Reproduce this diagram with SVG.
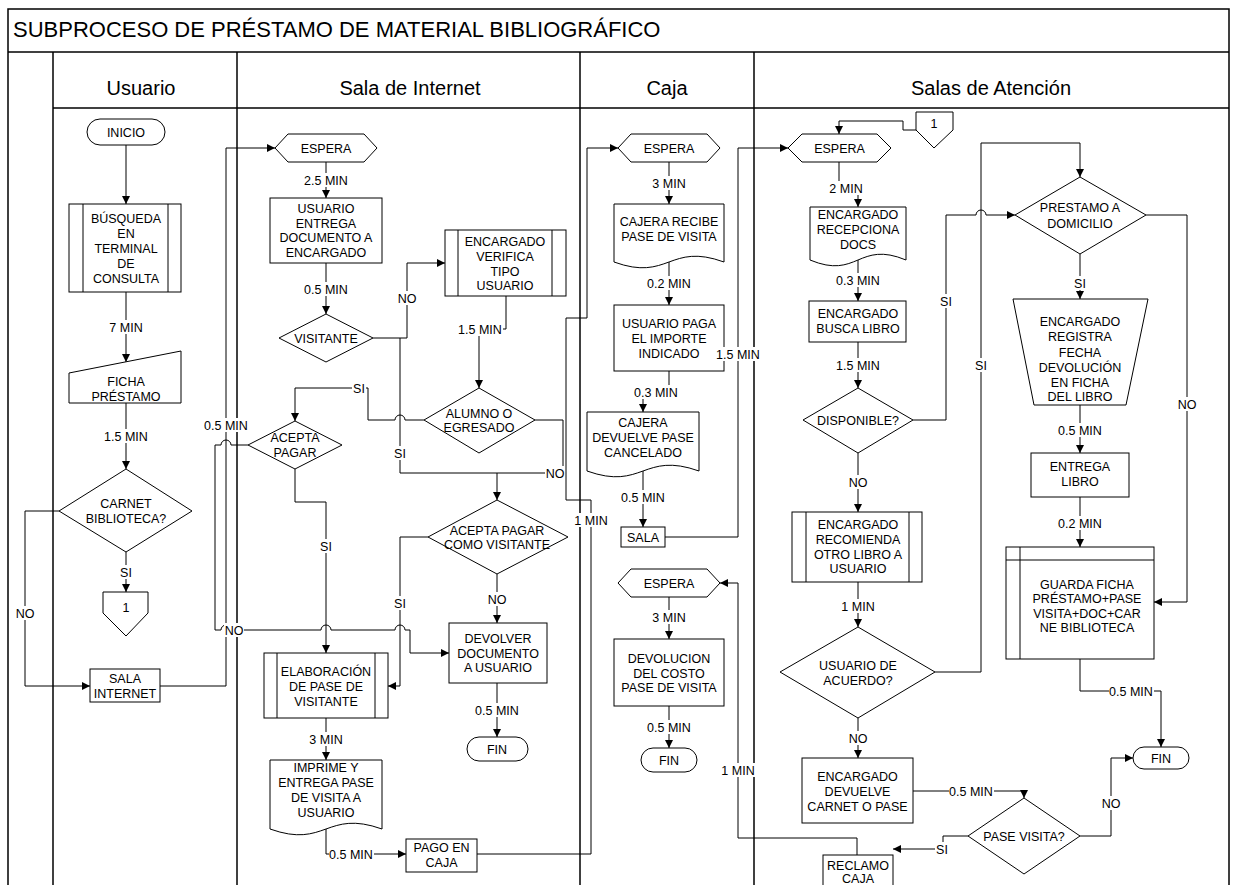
<svg xmlns="http://www.w3.org/2000/svg" width="1233" height="885" viewBox="0 0 1233 885">
<style>
.f{fill:none;stroke:#000;stroke-width:1.5}
.n{fill:#fff;stroke:#000;stroke-width:1}
.il{fill:none;stroke:#000;stroke-width:1}
.c{fill:none;stroke:#000;stroke-width:1}
.a{marker-end:url(#ar)}
.t{font-family:"Liberation Sans",Arial,sans-serif;font-size:12.5px;text-anchor:middle;fill:#000}
.h{font-family:"Liberation Sans",Arial,sans-serif;font-size:20px;text-anchor:middle;fill:#000}
.ttl{font-family:"Liberation Sans",Arial,sans-serif;font-size:22px;fill:#000}
.bg{fill:#fff}
</style>
<defs>
<marker id="ar" markerWidth="8" markerHeight="8" refX="8" refY="4" orient="auto" markerUnits="userSpaceOnUse"><path d="M0,0L8,4L0,8z" fill="#000"/></marker>
</defs>
<rect width="1233" height="885" fill="#fff"/>
<g id="frame">
<rect class="f" x="8" y="9" width="1221" height="890"/>
<line class="f" x1="8" y1="52" x2="1229" y2="52"/>
<line class="f" x1="53" y1="108" x2="1229" y2="108"/>
<line class="f" x1="53" y1="52" x2="53" y2="890"/>
<line class="f" x1="237" y1="52" x2="237" y2="890"/>
<line class="f" x1="580" y1="52" x2="580" y2="890"/>
<line class="f" x1="754" y1="52" x2="754" y2="890"/>
<text class="ttl" x="13" y="37">SUBPROCESO DE PRÉSTAMO DE MATERIAL BIBLIOGRÁFICO</text>
<text class="h" x="141" y="95">Usuario</text>
<text class="h" x="410" y="95">Sala de Internet</text>
<text class="h" x="667" y="95">Caja</text>
<text class="h" x="991" y="95">Salas de Atención</text>
</g>
<g id="connectors">
<path class="c a" d="M126,145V204"/>
<path class="c a" d="M126,292V362"/>
<path class="c a" d="M126,403V469"/>
<path class="c a" d="M126,552V592"/>
<path class="c a" d="M59,511H25V686H90"/>
<path class="c a" d="M160,686H226V148H275"/>
<path class="c a" d="M326,162V198"/>
<path class="c a" d="M326,263V314"/>
<path class="c a" d="M373,338H407V263H445"/>
<path class="c" d="M400,338V473H497"/>
<path class="c" d="M535,420H563V473H497"/>
<path class="c a" d="M497,473V500"/>
<path class="c a" d="M506,296V329H479V388"/>
<path class="c a" d="M424,420H405A5,5 0 0 0 395,420H368V388H295V421"/>
<path class="c a" d="M295,469V502H326V653"/>
<path class="c a" d="M248,445H231A5,5 0 0 0 221,445H215V630H221A5,5 0 0 1 231,630H321A5,5 0 0 1 331,630H395A5,5 0 0 1 405,630H410V653H449"/>
<path class="c a" d="M428,537H400V686H388"/>
<path class="c a" d="M497,574V623"/>
<path class="c a" d="M497,683V737"/>
<path class="c a" d="M326,718V760"/>
<path class="c a" d="M326,829V854H406"/>
<path class="c a" d="M477,854H591V500H566V318H587V148H618"/>
<path class="c a" d="M669,162V204"/>
<path class="c a" d="M669,262V305"/>
<path class="c a" d="M669,371V392H643V412"/>
<path class="c a" d="M643,471V527"/>
<path class="c a" d="M665,537H738V148H788"/>
<path class="c a" d="M857,855V838H738V583H720"/>
<path class="c a" d="M669,597V639"/>
<path class="c a" d="M669,706V748"/>
<path class="c a" d="M916,130H903V121H839V134"/>
<path class="c a" d="M839,162V188H858V207"/>
<path class="c a" d="M858,260V301"/>
<path class="c a" d="M858,342V388"/>
<path class="c a" d="M913,420H946V215H976A5,5 0 0 1 986,215H1015"/>
<path class="c a" d="M858,453V512"/>
<path class="c a" d="M858,582V627"/>
<path class="c a" d="M935,672H981V143H1080V177"/>
<path class="c a" d="M858,718V758"/>
<path class="c a" d="M913,791H1024V798"/>
<path class="c a" d="M968,836H943V849H893"/>
<path class="c a" d="M1080,836H1111V758H1133"/>
<path class="c a" d="M1146,215H1187V602H1154"/>
<path class="c a" d="M1080,254V299"/>
<path class="c a" d="M1080,405V453"/>
<path class="c a" d="M1080,497V547"/>
<path class="c a" d="M1080,659V691H1161V747"/>
</g>
<g id="n-inicio"><rect class="n" x="87" y="119" width="78" height="26" rx="13"/><text class="t" x="126" y="136.5">INICIO</text></g>
<g id="n-busqueda"><rect class="n" x="69" y="204" width="112" height="88"/><line class="il" x1="83" y1="204" x2="83" y2="292"/><line class="il" x1="168" y1="204" x2="168" y2="292"/>
<text class="t" x="126" y="222.5">BÚSQUEDA</text><text class="t" x="126" y="237.5">EN</text><text class="t" x="126" y="252.5">TERMINAL</text><text class="t" x="126" y="267.5">DE</text><text class="t" x="126" y="282.5">CONSULTA</text></g>
<g id="n-ficha"><polygon class="n" points="69,373 181,351 181,403 69,403"/><text class="t" x="126" y="385.5">FICHA</text><text class="t" x="126" y="400.5">PRÉSTAMO</text></g>
<g id="n-carnet"><polygon class="n" points="126,469 192,511 126,552 59,511"/><text class="t" x="126" y="507.5">CARNET</text><text class="t" x="126" y="522.5">BIBLIOTECA?</text></g>
<g id="n-off1"><polygon class="n" points="103,592 148,592 148,613 126,636 103,613"/><text class="t" x="126" y="612">1</text></g>
<g id="n-salainternet"><rect class="n" x="90" y="669" width="70" height="33"/><text class="t" x="125" y="682.5">SALA</text><text class="t" x="125" y="697.5">INTERNET</text></g>
<g id="n-espera1"><polygon class="n" points="275,148 288,134 364,134 377,148 364,162 288,162"/><text class="t" x="326" y="152.5">ESPERA</text></g>
<g id="n-entrega"><rect class="n" x="270" y="198" width="112" height="65"/><text class="t" x="326" y="212.5">USUARIO</text><text class="t" x="326" y="227.5">ENTREGA</text><text class="t" x="326" y="241.5">DOCUMENTO A</text><text class="t" x="326" y="256.5">ENCARGADO</text></g>
<g id="n-visitante"><polygon class="n" points="326,314 373,338 326,362 279,338"/><text class="t" x="326" y="342.5">VISITANTE</text></g>
<g id="n-verifica"><rect class="n" x="445" y="230" width="121" height="66"/><line class="il" x1="458" y1="230" x2="458" y2="296"/><line class="il" x1="552" y1="230" x2="552" y2="296"/>
<text class="t" x="505" y="245.5">ENCARGADO</text><text class="t" x="505" y="260.5">VERIFICA</text><text class="t" x="505" y="275.5">TIPO</text><text class="t" x="505" y="289.5">USUARIO</text></g>
<g id="n-alumno"><polygon class="n" points="479,388 535,420 479,453 424,420"/><text class="t" x="479" y="417.5">ALUMNO O</text><text class="t" x="479" y="431.5">EGRESADO</text></g>
<g id="n-aceptapagar"><polygon class="n" points="295,421 342,445 295,469 248,445"/><text class="t" x="295" y="441.5">ACEPTA</text><text class="t" x="295" y="456.5">PAGAR</text></g>
<g id="n-aceptavisitante"><polygon class="n" points="497,500 568,537 497,574 428,537"/><text class="t" x="497" y="534.5">ACEPTA PAGAR</text><text class="t" x="497" y="548.5">COMO VISITANTE</text></g>
<g id="n-devolver"><rect class="n" x="449" y="623" width="98" height="60"/><text class="t" x="498" y="642.5">DEVOLVER</text><text class="t" x="498" y="657.5">DOCUMENTO</text><text class="t" x="498" y="671.5">A USUARIO</text></g>
<g id="n-fin1"><rect class="n" x="467" y="737" width="61" height="24" rx="12"/><text class="t" x="497" y="753.5">FIN</text></g>
<g id="n-elaboracion"><rect class="n" x="264" y="653" width="124" height="65"/><line class="il" x1="277" y1="653" x2="277" y2="718"/><line class="il" x1="375" y1="653" x2="375" y2="718"/>
<text class="t" x="326" y="675.5">ELABORACIÓN</text><text class="t" x="326" y="690.5">DE PASE DE</text><text class="t" x="326" y="705.5">VISITANTE</text></g>
<g id="n-imprime"><path class="n" d="M270,760H382V829C326,809 326,849 270,829Z"/><text class="t" x="326" y="771.5">IMPRIME Y</text><text class="t" x="326" y="786.5">ENTREGA PASE</text><text class="t" x="326" y="801.5">DE VISITA A</text><text class="t" x="326" y="816.5">USUARIO</text></g>
<g id="n-pagocaja"><rect class="n" x="406" y="839" width="71" height="33"/><text class="t" x="441.5" y="851.5">PAGO EN</text><text class="t" x="441.5" y="866.5">CAJA</text></g>
<g id="n-espera2"><polygon class="n" points="618,148 631,134 707,134 720,148 707,162 631,162"/><text class="t" x="669" y="152.5">ESPERA</text></g>
<g id="n-cajerarecibe"><path class="n" d="M614,204H724V262C669,242 669,282 614,262Z"/><text class="t" x="669" y="225.5">CAJERA RECIBE</text><text class="t" x="669" y="240.5">PASE DE VISITA</text></g>
<g id="n-usuariopaga"><rect class="n" x="614" y="305" width="110" height="66"/><text class="t" x="669" y="327.5">USUARIO PAGA</text><text class="t" x="669" y="342.5">EL IMPORTE</text><text class="t" x="669" y="357.5">INDICADO</text></g>
<g id="n-cajeradevuelve"><path class="n" d="M587,412H699V471C643,451 643,491 587,471Z"/><text class="t" x="643" y="426.5">CAJERA</text><text class="t" x="643" y="441.5">DEVUELVE PASE</text><text class="t" x="643" y="456.5">CANCELADO</text></g>
<g id="n-sala"><rect class="n" x="621" y="527" width="44" height="20"/><text class="t" x="643" y="541.5">SALA</text></g>
<g id="n-espera3"><polygon class="n" points="618,583 631,569 707,569 720,583 707,597 631,597"/><text class="t" x="669" y="587.5">ESPERA</text></g>
<g id="n-devolucion"><rect class="n" x="614" y="639" width="110" height="67"/><text class="t" x="669" y="662.5">DEVOLUCION</text><text class="t" x="669" y="677.5">DEL COSTO</text><text class="t" x="669" y="691.5">PASE DE VISITA</text></g>
<g id="n-fin2"><rect class="n" x="641" y="748" width="56" height="24" rx="12"/><text class="t" x="669" y="764.5">FIN</text></g>
<g id="n-espera4"><polygon class="n" points="788,148 802,134 877,134 891,148 877,162 802,162"/><text class="t" x="839.5" y="152.5">ESPERA</text></g>
<g id="n-off2"><polygon class="n" points="916,112 953,112 953,130 934,148 916,130"/><text class="t" x="934" y="128">1</text></g>
<g id="n-recepciona"><path class="n" d="M810,207H906V260C858,240 858,280 810,260Z"/><text class="t" x="858" y="218.5">ENCARGADO</text><text class="t" x="858" y="233.5">RECEPCIONA</text><text class="t" x="858" y="248.5">DOCS</text></g>
<g id="n-buscalibro"><rect class="n" x="809" y="301" width="97" height="41"/><text class="t" x="858" y="317.5">ENCARGADO</text><text class="t" x="858" y="332.5">BUSCA LIBRO</text></g>
<g id="n-disponible"><polygon class="n" points="858,388 913,420 858,453 803,420"/><text class="t" x="858" y="424.5">DISPONIBLE?</text></g>
<g id="n-recomienda"><rect class="n" x="792" y="512" width="130" height="70"/><line class="il" x1="806" y1="512" x2="806" y2="582"/><line class="il" x1="909" y1="512" x2="909" y2="582"/>
<text class="t" x="858" y="528.5">ENCARGADO</text><text class="t" x="858" y="543.5">RECOMIENDA</text><text class="t" x="858" y="558.5">OTRO LIBRO A</text><text class="t" x="858" y="572.5">USUARIO</text></g>
<g id="n-acuerdo"><polygon class="n" points="858,627 935,672 858,718 780,672"/><text class="t" x="858" y="669.5">USUARIO DE</text><text class="t" x="858" y="684.5">ACUERDO?</text></g>
<g id="n-devuelvecarnet"><rect class="n" x="802" y="758" width="111" height="65"/><text class="t" x="857.5" y="780.5">ENCARGADO</text><text class="t" x="857.5" y="795.5">DEVUELVE</text><text class="t" x="857.5" y="810.5">CARNET O PASE</text></g>
<g id="n-reclamo"><rect class="n" x="823" y="855" width="70" height="34"/><text class="t" x="858" y="869.5">RECLAMO</text><text class="t" x="858" y="882.5">CAJA</text></g>
<g id="n-pasevisita"><polygon class="n" points="1024,798 1080,836 1024,874 968,836"/><text class="t" x="1024" y="840.5">PASE VISITA?</text></g>
<g id="n-fin3"><rect class="n" x="1133" y="747" width="56" height="22" rx="11"/><text class="t" x="1161" y="762.5">FIN</text></g>
<g id="n-prestamo"><polygon class="n" points="1080,177 1146,215 1080,254 1015,215"/><text class="t" x="1080" y="211.5">PRESTAMO A</text><text class="t" x="1080" y="227.5">DOMICILIO</text></g>
<g id="n-registra"><polygon class="n" points="1013,299 1148,299 1126,405 1034,405"/><text class="t" x="1080" y="325.5">ENCARGADO</text><text class="t" x="1080" y="340.5">REGISTRA</text><text class="t" x="1080" y="356.5">FECHA</text><text class="t" x="1080" y="371.5">DEVOLUCIÓN</text><text class="t" x="1080" y="386.5">EN FICHA</text><text class="t" x="1080" y="400.5">DEL LIBRO</text></g>
<g id="n-entregalibro"><rect class="n" x="1031" y="453" width="98" height="44"/><text class="t" x="1080" y="470.5">ENTREGA</text><text class="t" x="1080" y="485.5">LIBRO</text></g>
<g id="n-guarda"><rect class="n" x="1006" y="547" width="148" height="112"/><line class="il" x1="1020" y1="547" x2="1020" y2="659"/><line class="il" x1="1006" y1="560" x2="1154" y2="560"/>
<text class="t" x="1087" y="588.5">GUARDA FICHA</text><text class="t" x="1087" y="602.5">PRÉSTAMO+PASE</text><text class="t" x="1087" y="617.5">VISITA+DOC+CAR</text><text class="t" x="1087" y="631.5">NE BIBLIOTECA</text></g>
<g id="connector-labels">
<rect class="bg" x="109" y="320" width="35" height="14"/><text class="t" x="126" y="331.5">7 MIN</text>
<rect class="bg" x="104" y="429" width="45" height="14"/><text class="t" x="126" y="440.5">1.5 MIN</text>
<rect class="bg" x="119" y="565" width="14" height="14"/><text class="t" x="126" y="576.5">SI</text>
<rect class="bg" x="15" y="606" width="20" height="14"/><text class="t" x="25" y="617.5">NO</text>
<rect class="bg" x="204" y="418" width="45" height="14"/><text class="t" x="226" y="429.5">0.5 MIN</text>
<rect class="bg" x="304" y="173" width="45" height="14"/><text class="t" x="326" y="184.5">2.5 MIN</text>
<rect class="bg" x="304" y="282" width="45" height="14"/><text class="t" x="326" y="293.5">0.5 MIN</text>
<rect class="bg" x="397" y="291" width="20" height="14"/><text class="t" x="407" y="302.5">NO</text>
<rect class="bg" x="393" y="446" width="14" height="14"/><text class="t" x="400" y="457.5">SI</text>
<rect class="bg" x="545" y="466" width="20" height="14"/><text class="t" x="555" y="477.5">NO</text>
<rect class="bg" x="458" y="322" width="45" height="14"/><text class="t" x="480" y="333.5">1.5 MIN</text>
<rect class="bg" x="352" y="381" width="14" height="14"/><text class="t" x="359" y="392.5">SI</text>
<rect class="bg" x="319" y="539" width="14" height="14"/><text class="t" x="326" y="550.5">SI</text>
<rect class="bg" x="224" y="623" width="20" height="14"/><text class="t" x="234" y="634.5">NO</text>
<rect class="bg" x="393" y="596" width="14" height="14"/><text class="t" x="400" y="607.5">SI</text>
<rect class="bg" x="487" y="592" width="20" height="14"/><text class="t" x="497" y="603.5">NO</text>
<rect class="bg" x="475" y="703" width="45" height="14"/><text class="t" x="497" y="714.5">0.5 MIN</text>
<rect class="bg" x="309" y="732" width="35" height="14"/><text class="t" x="326" y="743.5">3 MIN</text>
<rect class="bg" x="329" y="847" width="45" height="14"/><text class="t" x="351" y="858.5">0.5 MIN</text>
<rect class="bg" x="574" y="513" width="35" height="14"/><text class="t" x="591" y="524.5">1 MIN</text>
<rect class="bg" x="652" y="176" width="35" height="14"/><text class="t" x="669" y="187.5">3 MIN</text>
<rect class="bg" x="647" y="276" width="45" height="14"/><text class="t" x="669" y="287.5">0.2 MIN</text>
<rect class="bg" x="634" y="385" width="45" height="14"/><text class="t" x="656" y="396.5">0.3 MIN</text>
<rect class="bg" x="621" y="490" width="45" height="14"/><text class="t" x="643" y="501.5">0.5 MIN</text>
<rect class="bg" x="716" y="347" width="45" height="14"/><text class="t" x="738" y="358.5">1.5 MIN</text>
<rect class="bg" x="721" y="763" width="35" height="14"/><text class="t" x="738" y="774.5">1 MIN</text>
<rect class="bg" x="652" y="610" width="35" height="14"/><text class="t" x="669" y="621.5">3 MIN</text>
<rect class="bg" x="647" y="720" width="45" height="14"/><text class="t" x="669" y="731.5">0.5 MIN</text>
<rect class="bg" x="829" y="181" width="35" height="14"/><text class="t" x="846" y="192.5">2 MIN</text>
<rect class="bg" x="836" y="273" width="45" height="14"/><text class="t" x="858" y="284.5">0.3 MIN</text>
<rect class="bg" x="836" y="358" width="45" height="14"/><text class="t" x="858" y="369.5">1.5 MIN</text>
<rect class="bg" x="939" y="294" width="14" height="14"/><text class="t" x="946" y="305.5">SI</text>
<rect class="bg" x="848" y="475" width="20" height="14"/><text class="t" x="858" y="486.5">NO</text>
<rect class="bg" x="841" y="599" width="35" height="14"/><text class="t" x="858" y="610.5">1 MIN</text>
<rect class="bg" x="974" y="358" width="14" height="14"/><text class="t" x="981" y="369.5">SI</text>
<rect class="bg" x="848" y="731" width="20" height="14"/><text class="t" x="858" y="742.5">NO</text>
<rect class="bg" x="949" y="784" width="45" height="14"/><text class="t" x="971" y="795.5">0.5 MIN</text>
<rect class="bg" x="935" y="842" width="14" height="14"/><text class="t" x="942" y="853.5">SI</text>
<rect class="bg" x="1101" y="796" width="20" height="14"/><text class="t" x="1111" y="807.5">NO</text>
<rect class="bg" x="1177" y="397" width="20" height="14"/><text class="t" x="1187" y="408.5">NO</text>
<rect class="bg" x="1073" y="276" width="14" height="14"/><text class="t" x="1080" y="287.5">SI</text>
<rect class="bg" x="1058" y="423" width="45" height="14"/><text class="t" x="1080" y="434.5">0.5 MIN</text>
<rect class="bg" x="1058" y="516" width="45" height="14"/><text class="t" x="1080" y="527.5">0.2 MIN</text>
<rect class="bg" x="1109" y="684" width="45" height="14"/><text class="t" x="1131" y="695.5">0.5 MIN</text>
</g>
</svg>
